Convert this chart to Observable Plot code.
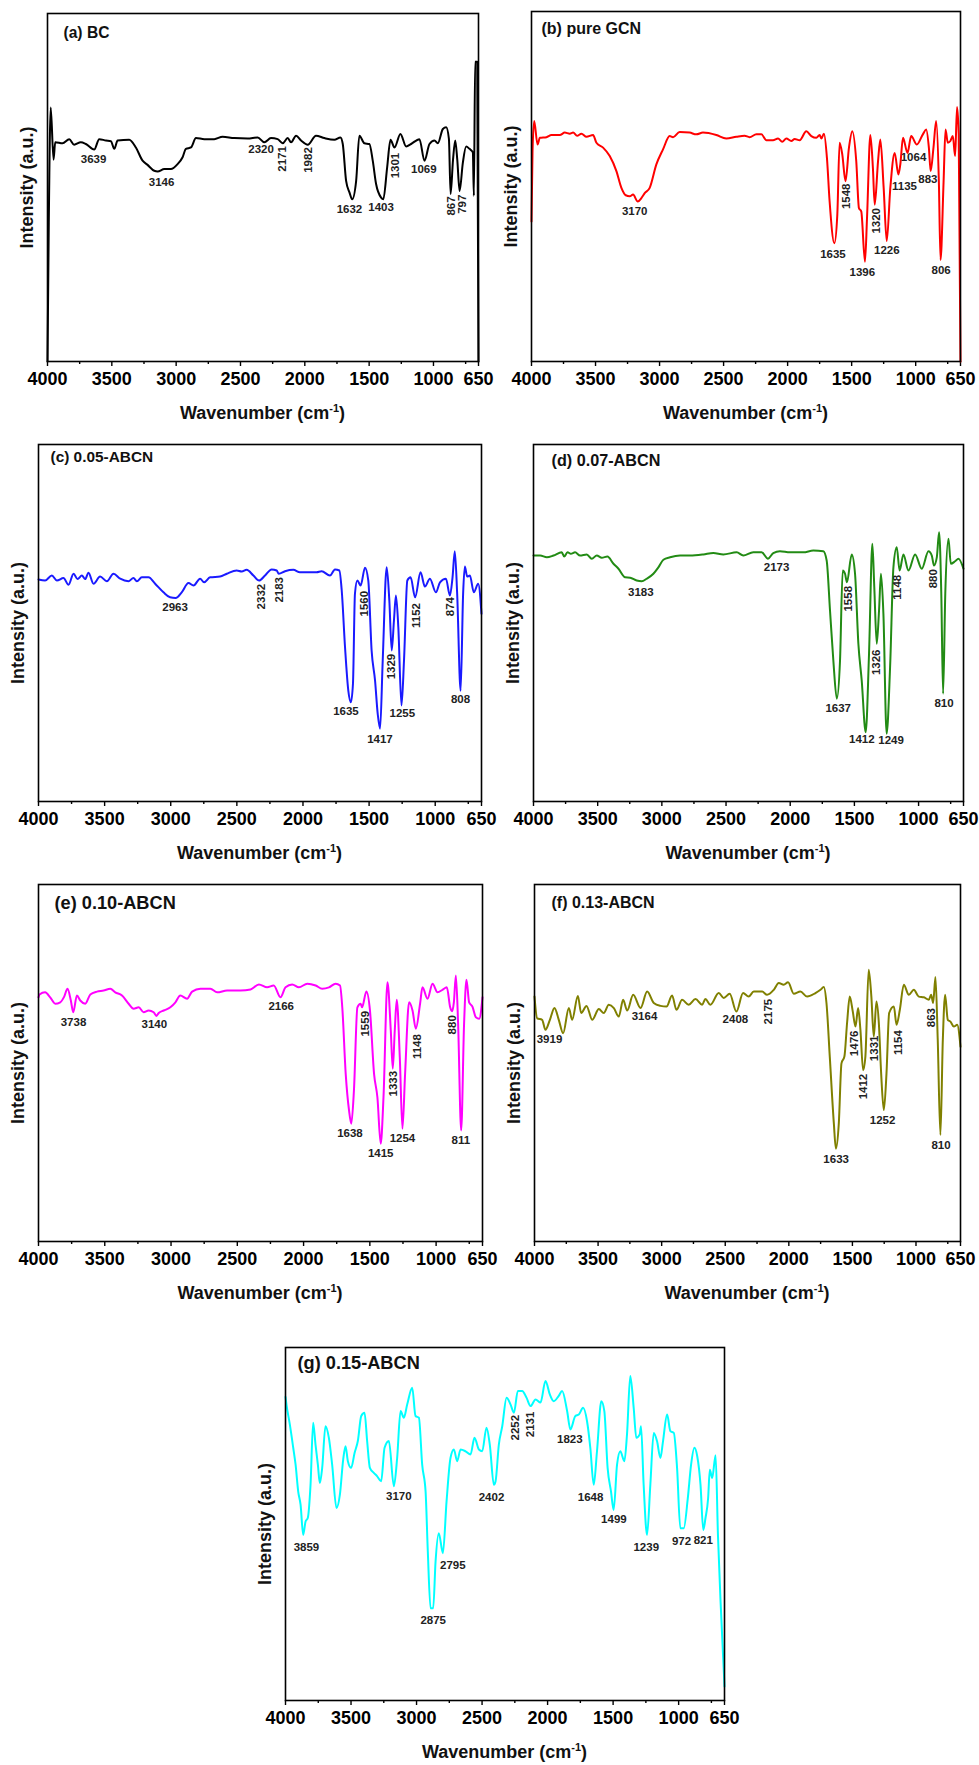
<!DOCTYPE html>
<html><head><meta charset="utf-8">
<script src="https://cdn.jsdelivr.net/npm/d3@7"></script>
<script src="https://cdn.jsdelivr.net/npm/@observablehq/plot@0.6"></script>
<style>
body{margin:0;background:#fff;}
#root{position:relative;width:979px;height:1765px;overflow:hidden;font-family:"Liberation Sans",Arial,sans-serif;}
.panel{position:absolute;}
.xt{position:absolute;text-align:center;font-weight:bold;font-size:18px;line-height:20px;color:#111;white-space:nowrap;}
.xt sup{font-size:11px;position:relative;top:-7px;vertical-align:baseline;}
</style></head><body><div id="root"></div>
<script>
// ---------- axis ticks ----------
const xTicksMajor = [4000, 3500, 3000, 2500, 2000, 1500, 1000, 650];
const xTicksMinor = [3750, 3250, 2750, 2250, 1750, 1250, 750];
const xTitle = "Wavenumber (cm<sup>-1</sup>)";
const yTitle = "Intensity (a.u.)";

// ---------- (a) BC ----------
const spectrumBC = [[4000,0],[3990,40],[3975,73],[3953,58],[3940,63],[3883,62.7],[3831,63.9],[3793,62.3],[3741,63],[3702,62.5],[3637,60.9],[3598,63.9],[3546,63.5],[3507,63.3],[3481,61.1],[3455,63.5],[3365,63.7],[3313,61.5],[3261,57.7],[3222,56.5],[3170,54.8],[3144,54.6],[3092,55.3],[3041,55.3],[2989,56.7],[2950,58.7],[2924,61.1],[2885,61.5],[2846,64.2],[2781,63.9],[2704,63.9],[2639,64.6],[2548,64.2],[2444,64.1],[2366,64.4],[2315,63],[2263,64.2],[2211,63.9],[2172,62.7],[2133,64.2],[2107,63],[2068,64.9],[2029,63.5],[1977,62.3],[1913,64.9],[1848,64.2],[1770,63.7],[1723,64.4],[1705,62.5],[1679,51.9],[1653,48.6],[1632,46.6],[1601,51.9],[1576,64.9],[1537,62.7],[1498,62.5],[1472,57.7],[1446,51],[1407,47.1],[1390,46.6],[1360,55.8],[1334,63.7],[1303,61.5],[1257,65.4],[1212,61.8],[1174,62.5],[1109,63.9],[1070,57.7],[1031,62.5],[992,63.5],[966,62.7],[927,66.8],[901,67.3],[880,64],[867,48.1],[848,58],[831,63.5],[815,58],[797,49],[772,57],[746,61.8],[720,61.1],[694,60.1],[686,47.6],[676,86.1],[660,86.1],[650,0]];
const peaksBC = ["3639","3146","2320","2171","1982","1632","1403","1301","1069","867","797"];
const peaksBCx = [3642,3113,2340,2172,1972,1653,1407,1298,1075,862,772];
const peaksBCy = [58.0,51.6,61.1,58.2,57.9,43.6,44.2,56.3,55.3,44.7,45.2];
const verticalBC = ["2171","1982","1301","867","797"];

// ---------- (b) pure GCN ----------
const spectrumGCN = [[4000,40],[3992,60],[3979,68.7],[3953,62],[3935,63.9],[3883,64.1],[3844,64.7],[3779,64.7],[3740,65.4],[3701,65.1],[3675,65.4],[3644,64.5],[3610,65.1],[3571,64.2],[3519,64.7],[3493,62.5],[3441,61.1],[3389,58.7],[3337,54.4],[3298,49.6],[3264,47.5],[3233,47.2],[3207,47.7],[3170,45.7],[3142,46.7],[3116,48.1],[3077,49.6],[3025,56.3],[2973,60.6],[2921,64.4],[2895,64.1],[2843,65.6],[2765,65.4],[2713,64.9],[2661,65.4],[2557,64.7],[2479,63.7],[2401,64.2],[2336,64.5],[2297,64.1],[2244,64.9],[2205,64.9],[2166,63.2],[2114,63.2],[2075,63.7],[2042,62.8],[2010,63.7],[1971,63],[1945,63.6],[1906,63.2],[1854,65.8],[1815,64.4],[1776,63.9],[1750,64.7],[1737,63.7],[1716,65.1],[1693,58.2],[1672,45.7],[1635,33.8],[1612,41.9],[1594,62.5],[1573,59.1],[1548,51.5],[1521,61.1],[1495,65.8],[1464,57.2],[1443,43.8],[1425,42.9],[1396,28.5],[1380,41],[1354,64.7],[1334,55.3],[1320,44.8],[1294,57.2],[1276,63.4],[1250,49.6],[1226,34.4],[1198,49.6],[1164,59.6],[1135,53.4],[1120,56.3],[1099,63.9],[1064,59.6],[1035,64.4],[991,62],[944,64.9],[918,66.3],[897,61.1],[883,54.4],[861,61.1],[840,68.7],[819,51.5],[806,29],[782,51.5],[767,66.3],[749,62.5],[729,63],[710,64.4],[692,58.7],[677,72.7],[664,64.9],[650,0]];
const peaksGCN = ["3170","1635","1548","1396","1320","1226","1135","1064","883","806"];
const peaksGCNx = [3194,1646,1542,1417,1308,1225,1087,1017,905,801];
const peaksGCNy = [42.9,30.7,47.2,25.5,40.2,31.7,50.0,58.2,52.0,26.1];
const verticalGCN = ["1548","1320"];

// ---------- (c) 0.05-ABCN ----------
const spectrumC05 = [[4000,62.2],[3950,61.9],[3899,63.3],[3861,61.9],[3811,62.6],[3773,60.7],[3735,63.8],[3705,62.3],[3672,63.3],[3647,62.3],[3622,64.1],[3584,61],[3534,63],[3483,61.7],[3433,63.8],[3382,62.4],[3320,61.7],[3282,62.6],[3256,61.7],[3219,62.8],[3168,62.8],[3118,61],[3055,58.6],[3005,57.2],[2963,57],[2917,58.6],[2866,61.2],[2828,60.5],[2778,62.4],[2748,61.4],[2702,62.8],[2627,63],[2576,63.8],[2501,64.7],[2463,64.4],[2426,64.9],[2375,63.3],[2332,61.9],[2287,63.3],[2237,65],[2199,64.7],[2183,63.8],[2136,64.5],[2073,64.9],[2023,64.2],[1897,64.2],[1859,64.5],[1796,63.3],[1758,65],[1725,64.7],[1707,59.1],[1682,43.2],[1657,31],[1638,27.8],[1622,33],[1607,58.2],[1589,61.9],[1564,60.5],[1531,65.5],[1506,61.9],[1481,42.3],[1455,33.9],[1435,24.6],[1417,20.4],[1397,39.5],[1367,65.6],[1347,56.3],[1329,42.3],[1312,50.7],[1297,57.7],[1279,48.8],[1255,26.9],[1236,39.5],[1211,61.9],[1186,62.8],[1152,57.2],[1111,64.2],[1078,60.2],[1040,62.4],[995,58.6],[964,61.4],[919,62.4],[889,57.7],[869,62.8],[852,70.1],[834,58.2],[808,31],[789,58.2],[776,65.8],[758,63],[738,63.3],[708,58.6],[675,61],[650,52.6]];
const peaksC05 = ["2963","2332","2183","1560","1635","1417","1329","1255","1152","874","808"];
const peaksC05x = [2967,2317,2179,1533,1675,1418,1330,1249,1141,884,809];
const peaksC05y = [54.4,57.4,59.3,55.4,25.2,17.3,37.8,24.6,52.1,54.6,28.6];
const verticalC05 = ["2332","2183","1560","1329","1152","874"];

// ---------- (d) 0.07-ABCN ----------
const spectrumC07 = [[4000,68.9],[3948,68.9],[3896,68.4],[3844,68.9],[3780,69.8],[3761,68.6],[3735,69.8],[3709,69.4],[3676,69.8],[3637,68.9],[3585,69.2],[3546,68],[3507,68.9],[3468,68.3],[3424,68.6],[3377,66.6],[3338,65.2],[3286,62.8],[3247,62.7],[3196,61.9],[3157,61.7],[3118,62.4],[3066,63.8],[3027,65.6],[2988,67.7],[2936,68.4],[2858,68.9],[2780,68.9],[2677,69.2],[2599,69.6],[2521,69.2],[2417,69.8],[2366,68.9],[2288,69.8],[2223,69.8],[2173,68],[2132,69.6],[2080,70.1],[2002,69.8],[1898,69.8],[1820,70.3],[1742,70.1],[1716,67.5],[1690,53.5],[1664,39.5],[1637,28.8],[1612,39.5],[1591,64.7],[1573,63.8],[1558,61.4],[1521,69.2],[1495,63.8],[1469,44.2],[1443,33.9],[1412,19.4],[1386,41.4],[1360,72.2],[1345,60],[1326,44.2],[1308,53.5],[1293,63.8],[1274,52.6],[1249,19],[1222,37.6],[1196,65.6],[1170,71.2],[1148,64.7],[1118,69.2],[1079,64.7],[1027,69.2],[975,65.2],[923,70.1],[897,68.9],[880,66.1],[858,68.4],[840,75.4],[823,58.2],[809,30.2],[792,58.2],[767,73.6],[749,66.6],[715,67.3],[689,68],[650,65.2]];
const peaksC07 = ["3183","2173","1558","1637","1412","1326","1249","1148","880","810"];
const peaksC07x = [3164,2106,1548,1626,1442,1326,1214,1165,887,802];
const peaksC07y = [58.5,65.5,56.8,26.0,17.3,39.0,17.1,60.0,62.4,27.6];
const verticalC07 = ["1558","1326","1148","880"];

// ---------- (e) 0.10-ABCN ----------
const spectrumC10 = [[4000,68.4],[3992,69.2],[3950,69.8],[3912,68.4],[3874,66.6],[3836,67],[3806,68.6],[3781,70.8],[3756,67.5],[3738,64.2],[3710,68.9],[3685,67.5],[3647,66.6],[3609,69.2],[3559,70],[3509,70.3],[3458,70.8],[3421,69.8],[3370,68.9],[3320,66.6],[3282,65.2],[3244,65.6],[3207,64.2],[3169,64.7],[3131,64.2],[3110,63.2],[3093,64],[3055,64.7],[3005,65.6],[2967,67],[2930,68.9],[2879,68],[2841,70],[2778,70.8],[2703,70.8],[2652,69.8],[2577,70.3],[2476,70.3],[2400,70.6],[2337,72],[2275,71.2],[2225,71.7],[2174,68.4],[2136,71.2],[2086,72],[2035,71.2],[1972,72.2],[1909,71.7],[1859,70.8],[1808,71.2],[1758,72.2],[1725,71.7],[1708,65.6],[1682,46.9],[1657,36.7],[1640,33],[1620,42.3],[1594,65.6],[1569,66.6],[1559,65.6],[1526,70],[1499,64.7],[1468,46.9],[1443,40.4],[1418,27.4],[1397,40.4],[1367,72.6],[1342,59.1],[1327,48.4],[1312,59.1],[1297,67.7],[1274,51.6],[1254,31.6],[1234,47],[1204,67],[1178,64.7],[1153,59.6],[1121,66.6],[1103,71.2],[1065,68],[1027,72.2],[989,69.8],[952,70.5],[919,71.2],[894,65.6],[880,64.5],[866,67],[851,74.5],[834,61],[811,31.1],[789,61],[771,73.3],[751,67],[726,65.8],[700,62.8],[675,62.4],[650,68.4]];
const peaksC10 = ["3738","3140","2166","1559","1638","1415","1333","1254","1148","880","811"];
const peaksC10x = [3736,3126,2169,1531,1650,1418,1322,1254,1141,877,813];
const peaksC10y = [61.4,60.7,65.9,61.0,30.4,24.6,44.2,28.8,54.6,60.7,28.3];
const verticalC10 = ["1559","1333","1148","880"];

// ---------- (f) 0.13-ABCN ----------
const spectrumC13 = [[4000,68.6],[3979,62.5],[3940,62.1],[3914,59.3],[3879,62.1],[3843,65.4],[3809,62.1],[3775,58.3],[3730,65.4],[3704,62.1],[3659,68.8],[3633,64],[3591,66],[3546,62.1],[3494,65.1],[3455,64],[3416,66.3],[3376,65.4],[3337,63],[3303,67.7],[3271,64.7],[3224,69.1],[3166,65.4],[3114,70],[3062,66.8],[3009,66],[2962,65.8],[2918,68.9],[2884,64.9],[2839,67.7],[2787,66.3],[2734,67.9],[2682,66.3],[2656,67.9],[2617,66.3],[2551,69.6],[2512,68.2],[2465,69.4],[2412,64.4],[2360,69.6],[2316,68.6],[2276,70],[2210,70],[2171,69.1],[2118,70.5],[2079,72.4],[2040,71.9],[2006,72.6],[1961,69.4],[1909,70],[1856,68.6],[1791,69.6],[1751,70.5],[1725,71.3],[1704,66.8],[1678,51.8],[1646,33.1],[1630,26],[1607,33.1],[1586,49.9],[1563,51.8],[1542,61.2],[1521,68.6],[1497,64.4],[1476,60.2],[1455,65.4],[1437,59.3],[1416,48],[1398,51.8],[1372,76.1],[1351,68.6],[1332,57.4],[1311,67.2],[1292,61.1],[1274,47.1],[1253,36.8],[1232,47.1],[1211,64],[1174,65.8],[1153,60.7],[1127,64.9],[1096,71.9],[1056,69.1],[1017,70.5],[978,68.6],[938,68.4],[899,67.7],[881,69.1],[865,66.8],[847,74.1],[829,56.5],[808,29.8],[789,56.5],[771,69.1],[750,62.1],[729,61.6],[702,60.2],[676,60.7],[650,54.6]];
const peaksC13 = ["3919","3164","2408","2175","1633","1476","1412","1331","1252","1154","863","810"];
const peaksC13x = [3882,3135,2420,2165,1628,1482,1411,1324,1263,1139,877,803];
const peaksC13y = [56.5,63.0,62.3,64.4,22.9,55.5,43.4,54.1,34.0,55.7,62.7,27.0];
const verticalC13 = ["2175","1476","1412","1331","1154","863"];

// ---------- (g) 0.15-ABCN ----------
const spectrumC15 = [[4000,86],[3992,83.7],[3967,78.2],[3941,71.6],[3923,66.8],[3903,59.2],[3885,55.5],[3865,46.9],[3847,50.7],[3830,51.7],[3809,61.1],[3789,78.7],[3771,72.5],[3753,66.8],[3738,61.6],[3720,65.9],[3695,77.7],[3669,74.4],[3644,66.8],[3611,54.5],[3585,58.3],[3560,68.2],[3542,72],[3524,67.8],[3499,65.9],[3473,70.1],[3448,73.5],[3422,80.6],[3397,81.5],[3377,73.5],[3356,65.9],[3326,64.5],[3300,63.5],[3270,62.1],[3244,71.6],[3211,73.5],[3173,60.7],[3148,68.7],[3122,82],[3097,80.1],[3071,83.9],[3033,88.6],[3008,80.6],[2982,80.1],[2957,66.8],[2931,59.2],[2914,42.2],[2893,26.1],[2873,26.1],[2855,39.3],[2830,47.4],[2799,41.7],[2771,56.4],[2741,68.7],[2715,71.1],[2690,67.8],[2664,71.1],[2626,70.6],[2588,69.7],[2558,74.4],[2524,71.1],[2499,70.6],[2466,77.3],[2441,72.5],[2410,61.1],[2397,62.1],[2372,72.5],[2346,77.7],[2313,85.8],[2283,83.9],[2257,81.5],[2227,87.7],[2194,87.7],[2161,85.8],[2130,83.4],[2092,85.3],[2054,84.4],[2016,90.5],[1983,86.7],[1953,84.8],[1915,86.3],[1889,87.7],[1851,82],[1826,76.8],[1788,80.6],[1762,81],[1729,82.9],[1699,79.1],[1674,71.6],[1648,61.1],[1623,70.6],[1590,84.8],[1567,82],[1542,65.9],[1516,59.2],[1496,54],[1470,66.8],[1445,70.6],[1414,67.8],[1394,75.4],[1369,91.9],[1343,82.9],[1323,74.4],[1297,75.4],[1287,77.7],[1267,61.1],[1241,46.9],[1216,61.1],[1190,75.8],[1165,73.5],[1139,68.7],[1119,73.5],[1088,81],[1063,76.3],[1037,75.8],[1012,65.9],[987,48.8],[961,48.8],[930,57.3],[905,66.8],[880,71.6],[858,69.2],[833,61.1],[812,48.3],[795,51.7],[775,57.3],[762,65.4],[744,63],[718,69.5],[700,46.9],[680,28],[655,8.1],[650,4]];
const peaksC15 = ["3859","3170","2875","2795","2402","2252","2131","1823","1648","1499","1239","972","821"];
const peaksC15x = [3840,3135,2873,2723,2428,2250,2130,1830,1672,1494,1247,978,812];
const peaksC15y = [43.3,57.8,22.6,38.2,57.6,77.3,78.2,73.9,57.5,51.2,43.3,45.0,45.5];
const verticalC15 = ["2252","2131"];

// ---------- layout ----------
const FONT = '"Liberation Sans", Arial, Helvetica, sans-serif';
const panels = [
  {title:"(a) BC", tsize:15.6, tdx:16, tdy:19, color:"#000000", L:47, R:478, T:13, B:361, s:spectrumBC, p:peaksBC, px:peaksBCx, py:peaksBCy, v:verticalBC},
  {title:"(b) pure GCN", tsize:16, tdx:10, tdy:17, color:"#ff0000", L:531, R:960, T:11, B:361, s:spectrumGCN, p:peaksGCN, px:peaksGCNx, py:peaksGCNy, v:verticalGCN},
  {title:"(c) 0.05-ABCN", tsize:15.4, tdx:12, tdy:13, color:"#1a1aff", L:38, R:481, T:444, B:801, s:spectrumC05, p:peaksC05, px:peaksC05x, py:peaksC05y, v:verticalC05},
  {title:"(d) 0.07-ABCN", tsize:16.2, tdx:18, tdy:16, color:"#228b14", L:533, R:963, T:444, B:801, s:spectrumC07, p:peaksC07, px:peaksC07x, py:peaksC07y, v:verticalC07},
  {title:"(e) 0.10-ABCN", tsize:18.2, tdx:16, tdy:19, color:"#ff00ff", L:38, R:482, T:884, B:1241, s:spectrumC10, p:peaksC10, px:peaksC10x, py:peaksC10y, v:verticalC10},
  {title:"(f) 0.13-ABCN", tsize:16, tdx:17, tdy:18, color:"#808000", L:534, R:960, T:884, B:1241, s:spectrumC13, p:peaksC13, px:peaksC13x, py:peaksC13y, v:verticalC13},
  {title:"(g) 0.15-ABCN", tsize:18.2, tdx:12, tdy:16, color:"#00ffff", L:285, R:724, T:1347, B:1700, s:spectrumC15, p:peaksC15, px:peaksC15x, py:peaksC15y, v:verticalC15}
];

const root = document.getElementById("root");
const ml = 38, mr = 16, mt = 4, mb = 40;

for (const c of panels) {
  const w = c.R - c.L + ml + mr, h = c.B - c.T + mt + mb;
  const data = c.s.map(([wn, val]) => ({wn, val}));
  const labels = c.p.map((t, i) => ({t, wn: c.px[i], val: c.py[i], rot: c.v.includes(t)}));
  const chart = Plot.plot({
    width: w, height: h,
    marginLeft: ml, marginRight: mr, marginTop: mt, marginBottom: mb,
    style: {fontFamily: FONT, background: "transparent", overflow: "visible"},
    x: {domain: [4000, 650]},
    y: {domain: [0, 100], axis: null},
    marks: [
      Plot.axisX({ticks: xTicksMinor, tickSize: 3, tickFormat: () => "", label: null, color: "#000", strokeWidth: 1.4}),
      Plot.axisX({ticks: xTicksMajor, tickSize: 5, tickPadding: 6, tickFormat: d => String(d), label: null,
                  color: "#000", strokeWidth: 1.4, fontSize: 18, fontWeight: "bold"}),
      Plot.line(data, {x: "wn", y: "val", stroke: c.color, strokeWidth: 2, curve: "monotone-x"}),
      Plot.text(labels.filter(d => !d.rot), {x: "wn", y: "val", text: "t", fontSize: 11.5, fontWeight: "bold", fill: "#222", lineAnchor: "middle"}),
      Plot.text(labels.filter(d => d.rot), {x: "wn", y: "val", text: "t", fontSize: 11.5, fontWeight: "bold", fill: "#222", rotate: -90, lineAnchor: "middle"}),
      Plot.text([c.title], {text: d => d, frameAnchor: "top-left", dx: c.tdx, dy: c.tdy, textAnchor: "start", lineAnchor: "middle",
                            fontSize: c.tsize, fontWeight: "bold", fill: "#111"}),
      Plot.text([yTitle], {text: d => d, frameAnchor: "left", dx: -20, rotate: -90, textAnchor: "middle", lineAnchor: "middle",
                           fontSize: 18, fontWeight: "bold", fill: "#111"}),
      Plot.frame({stroke: "#000", strokeWidth: 1.6})
    ]
  });
  const div = document.createElement("div");
  div.className = "panel";
  div.style.left = (c.L - ml) + "px";
  div.style.top = (c.T - mt) + "px";
  div.style.width = w + "px";
  div.style.height = h + "px";
  div.appendChild(chart);
  root.appendChild(div);

  const xt = document.createElement("div");
  xt.className = "xt";
  xt.style.left = c.L + "px";
  xt.style.width = (c.R - c.L) + "px";
  xt.style.top = (c.B + 52 - 10) + "px";
  xt.innerHTML = xTitle;
  root.appendChild(xt);
}
</script></body></html>
